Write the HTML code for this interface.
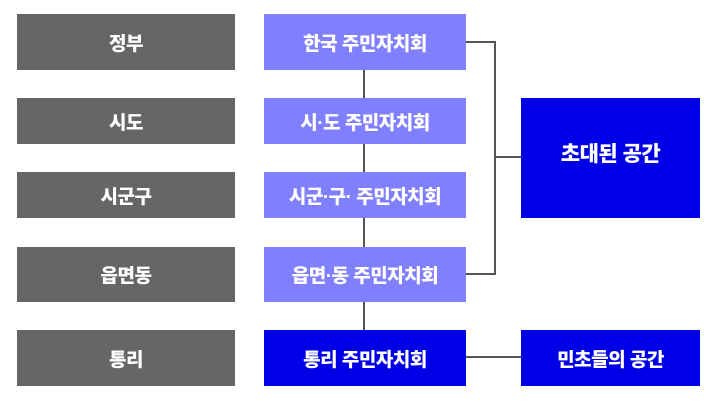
<!DOCTYPE html>
<html><head><meta charset="utf-8"><style>
body{margin:0;background:#fff;width:715px;height:404px;position:relative;overflow:hidden;font-family:"Liberation Sans","Noto Sans CJK KR",sans-serif;}
.b{position:absolute;display:flex;align-items:center;justify-content:center;color:#fff;font-weight:900;font-size:19px;letter-spacing:-0.5px;}
.g{background:#666;left:17px;width:218px;}
.p{background:#8080ff;left:264px;width:202px;}
.d{background:#0000e6;}
.l{position:absolute;background:#555;}
</style></head><body>
<div class="l" style="left:363px;top:60px;width:2px;height:280px"></div>
<div class="l" style="left:466px;top:41px;width:30px;height:2px"></div>
<div class="l" style="left:466px;top:273px;width:30px;height:2px"></div>
<div class="l" style="left:494px;top:41px;width:2px;height:234px"></div>
<div class="l" style="left:494px;top:156px;width:27px;height:2px"></div>
<div class="l" style="left:466px;top:356px;width:55px;height:2px"></div>
<div class="b g" style="top:14px;height:56px">정부</div>
<div class="b g" style="top:98px;height:46px">시도</div>
<div class="b g" style="top:172px;height:46px">시군구</div>
<div class="b g" style="top:247px;height:55px">읍면동</div>
<div class="b g" style="top:330px;height:56px">통리</div>
<div class="b p" style="top:14px;height:56px">한국 주민자치회</div>
<div class="b p" style="top:98px;height:46px">시·도 주민자치회</div>
<div class="b p" style="top:172px;height:46px">시군·구· 주민자치회</div>
<div class="b p" style="top:247px;height:55px">읍면·동 주민자치회</div>
<div class="b d" style="top:330px;height:56px;left:264px;width:202px">통리 주민자치회</div>
<div class="b d" style="top:98px;height:120px;left:521px;width:179px;padding-bottom:10px;box-sizing:border-box;font-size:21px">초대된 공간</div>
<div class="b d" style="top:330px;height:56px;left:521px;width:179px">민초들의 공간</div>
</body></html>
